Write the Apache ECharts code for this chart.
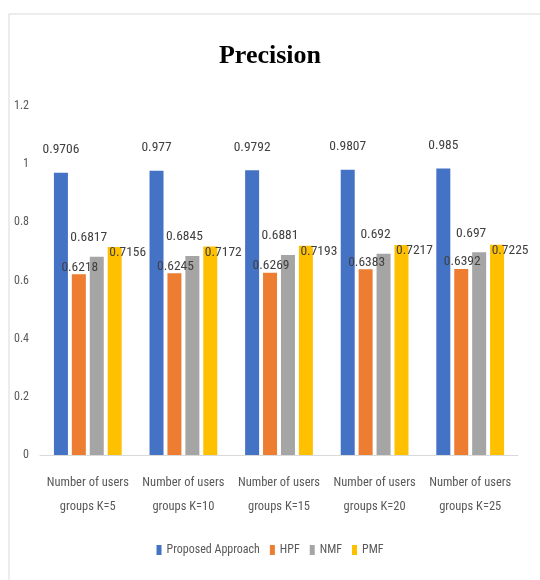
<!DOCTYPE html>
<html>
<head>
<meta charset="UTF-8">
<title>Precision</title>
<style>
    body { margin: 0; padding: 0; background: #ffffff; overflow: hidden; }
    #main_chart { width: 540px; height: 580px; }
</style>
</head>
<body>
<div id="main_chart"></div>
<script src="https://cdn.jsdelivr.net/npm/echarts@6/dist/echarts.min.js"></script>
<script>
var categories = ['Number of users\ngroups K=5', 'Number of users\ngroups K=10', 'Number of users\ngroups K=15',
    'Number of users\ngroups K=20', 'Number of users\ngroups K=25'];
var proposed = [0.9706, 0.977, 0.9792, 0.9807, 0.985];
var hpf = [0.6218, 0.6245, 0.6269, 0.6383, 0.6392];
var nmf = [0.6817, 0.6845, 0.6881, 0.692, 0.697];
var pmf = [0.7156, 0.7172, 0.7193, 0.7217, 0.7225];

var narrow = '"Liberation Sans Narrow", "Roboto Condensed", Roboto, sans-serif';

function bar(name, data, color, offset) {
    return {
        name: name,
        type: 'bar',
        data: data,
        barWidth: 14,
        barGap: '28%',
        itemStyle: { color: color },
        label: {
            show: true,
            position: 'top',
            offset: offset,
            color: '#404040',
            fontFamily: narrow,
            fontSize: 13.5
        }
    };
}

var chart = echarts.init(document.getElementById('main_chart'));
chart.setOption({
    animation: false,
    graphic: [{
        type: 'rect',
        shape: { x: 9, y: 14, width: 620, height: 620 },
        style: { fill: 'none', stroke: '#d9d9d9', lineWidth: 1 },
        silent: true
    }],
    title: {
        text: 'Precision',
        left: 'center',
        top: 38,
        textStyle: { fontFamily: '"Liberation Serif", serif', fontWeight: 'bold', fontSize: 26, color: '#000' }
    },
    legend: {
        bottom: 19,
        left: 'center',
        itemWidth: 5,
        itemHeight: 10,
        itemGap: 10,
        icon: 'rect',
        textStyle: { fontFamily: narrow, fontSize: 12, color: '#595959' }
    },
    grid: { left: 40, right: 22, top: 106, bottom: 125 },
    xAxis: {
        type: 'category',
        data: categories,
        axisTick: { show: false },
        axisLine: { lineStyle: { color: '#d9d9d9' } },
        axisLabel: { color: '#595959', fontFamily: narrow, fontSize: 12.5, lineHeight: 24, margin: 16, interval: 0 }
    },
    yAxis: {
        type: 'value',
        min: 0,
        max: 1.2,
        interval: 0.2,
        splitLine: { show: false },
        axisLabel: {
            color: '#595959', fontFamily: narrow, fontSize: 12, margin: 11,
            formatter: function (v) { return String(Math.round(v * 10) / 10); }
        }
    },
    series: [
        bar('Proposed Approach', proposed, '#4472C4', [0, -11]),
        bar('HPF', hpf, '#ED7D31', [1, 5]),
        bar('NMF', nmf, '#A5A5A5', [-8, -7]),
        bar('PMF', pmf, '#FFC000', [13, 18])
    ]
});
</script>
</body>
</html>
